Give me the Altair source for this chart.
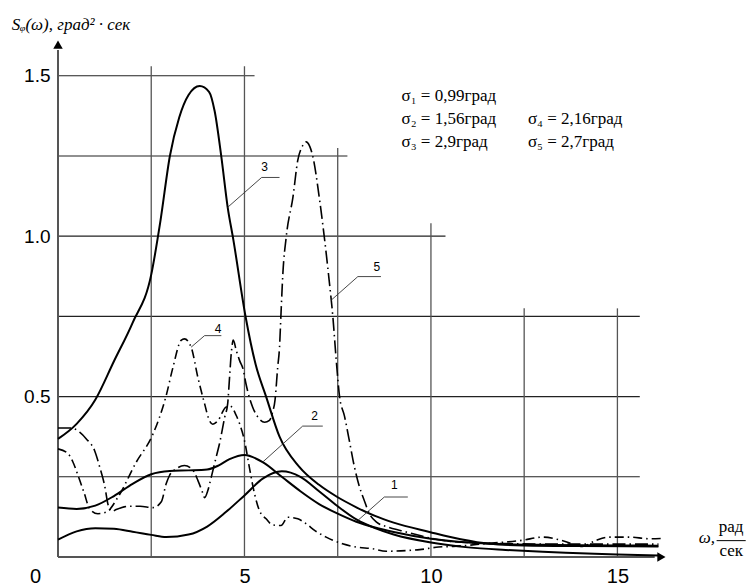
import altair as alt
import pandas as pd

# ---------------- data ----------------
c1_x = [0, 0.5, 1.0, 1.5, 2.0, 2.5, 2.9, 3.5, 4.0, 4.5, 5.0, 5.5, 6.0, 6.5, 7.0, 7.5, 8.0, 8.5, 9.0, 10, 11, 12, 13, 14, 15, 16.1]
c1_y = [0.054, 0.08, 0.09, 0.088, 0.079, 0.069, 0.062, 0.07, 0.095, 0.14, 0.192, 0.245, 0.267, 0.25, 0.205, 0.158, 0.117, 0.09, 0.07, 0.045, 0.03, 0.022, 0.016, 0.012, 0.008, 0.005]

c2_x = [0, 0.5, 1.0, 1.5, 2.0, 2.5, 3.0, 3.5, 4.0, 4.3, 4.6, 5.0, 5.5, 6.0, 6.5, 7.0, 7.5, 8.0, 8.5, 9, 10, 11, 12, 13, 14, 15, 16.1]
c2_y = [0.154, 0.15, 0.16, 0.19, 0.228, 0.258, 0.268, 0.27, 0.273, 0.285, 0.305, 0.318, 0.295, 0.25, 0.205, 0.165, 0.135, 0.11, 0.092, 0.078, 0.057, 0.045, 0.04, 0.038, 0.037, 0.036, 0.035]

c3_x = [0, 0.5, 1.0, 1.5, 2.0, 2.5, 2.75, 3.0, 3.25, 3.5, 3.8, 4.05, 4.2, 4.38, 4.55, 4.7, 5.03, 5.3, 5.58, 5.94, 6.47, 7.0, 7.49, 8.0, 8.5, 9.0, 9.96, 10.8, 11.56, 12.5, 14, 16.1]
c3_y = [0.368, 0.415, 0.49, 0.61, 0.73, 0.88, 1.05, 1.25, 1.37, 1.44, 1.468, 1.45, 1.39, 1.247, 1.09, 0.99, 0.749, 0.6, 0.5, 0.375, 0.281, 0.225, 0.187, 0.155, 0.128, 0.107, 0.078, 0.055, 0.041, 0.036, 0.034, 0.033]

c4_x = [0, 0.27, 0.4, 0.55, 0.7, 0.85, 1.07, 1.3, 1.61, 2.1, 2.55, 2.9, 3.08, 3.3, 3.39, 3.57, 3.75, 3.93, 4.06, 4.15, 4.29, 4.5, 4.62, 4.78, 4.87, 5.0, 5.13, 5.27, 5.4, 5.58, 5.75, 5.98, 6.16, 6.43, 6.65, 6.88, 7.19, 7.37, 7.63, 7.99, 8.43, 8.8, 9.33, 9.7, 10.2, 10.6, 11.5, 12.45, 12.99, 13.5, 14.06, 14.43, 14.78, 15.3, 15.86, 16.2]
c4_y = [0.337, 0.322, 0.296, 0.25, 0.2, 0.15, 0.135, 0.14, 0.187, 0.296, 0.384, 0.503, 0.59, 0.675, 0.68, 0.654, 0.56, 0.478, 0.425, 0.414, 0.425, 0.467, 0.47, 0.441, 0.415, 0.363, 0.28, 0.197, 0.145, 0.119, 0.1, 0.098, 0.124, 0.119, 0.104, 0.083, 0.062, 0.052, 0.041, 0.031, 0.026, 0.018, 0.02, 0.023, 0.031, 0.033, 0.042, 0.052, 0.062, 0.052, 0.033, 0.052, 0.062, 0.062, 0.057, 0.058]

c5_x = [0, 0.36, 0.58, 0.76, 0.98, 1.12, 1.25, 1.35, 1.45, 1.56, 1.88, 2.2, 2.55, 2.77, 2.9, 2.99, 3.17, 3.39, 3.62, 3.75, 3.88, 3.93, 4.02, 4.11, 4.24, 4.33, 4.47, 4.55, 4.6, 4.65, 4.7, 4.78, 4.87, 4.96, 5.04, 5.13, 5.22, 5.36, 5.54, 5.67, 5.75, 5.82, 5.89, 5.94, 5.98, 6.03, 6.12, 6.3, 6.43, 6.55, 6.65, 6.75, 6.83, 7.01, 7.14, 7.27, 7.37, 7.46, 7.55, 7.68, 7.8, 7.95, 8.08, 8.2, 8.35, 8.55, 8.8, 9.2, 9.6, 10.1, 10.6, 11.2, 12, 13, 14, 15, 16.1]
c5_y = [0.402, 0.402, 0.389, 0.368, 0.332, 0.28, 0.223, 0.16, 0.142, 0.148, 0.158, 0.158, 0.154, 0.172, 0.228, 0.254, 0.275, 0.285, 0.27, 0.239, 0.2, 0.185, 0.208, 0.249, 0.311, 0.353, 0.436, 0.478, 0.56, 0.64, 0.676, 0.644, 0.612, 0.587, 0.54, 0.498, 0.467, 0.436, 0.42, 0.426, 0.45, 0.49, 0.59, 0.654, 0.76, 0.884, 0.998, 1.122, 1.237, 1.28, 1.294, 1.28, 1.25, 1.117, 0.998, 0.863, 0.749, 0.614, 0.5, 0.44, 0.37, 0.28, 0.22, 0.18, 0.135, 0.108, 0.095, 0.082, 0.07, 0.056, 0.048, 0.044, 0.042, 0.04, 0.04, 0.04, 0.04]

# partial grid lines
h_grid_y = [0.25, 0.5, 0.75, 1.0, 1.25, 1.5]
h_grid_xend = [15.6, 15.6, 15.6, 10.39, 7.76, 5.27]
v_grid_x = [2.5, 5, 7.5, 10, 12.5, 15]
v_grid_ytop = [1.53, 1.53, 1.275, 1.04, 0.775, 0.775]

# curve labels with leader lines
lab_text = ["1", "2", "3", "4", "5"]
lab_x = [9.02, 6.88, 5.54, 4.29, 8.55]
lab_y = [0.223, 0.441, 1.217, 0.711, 0.903]
lead_x = [[8.04, 8.75, 9.38], [5.49, 6.56, 7.1], [4.55, 5.46, 5.94], [3.57, 3.93, 4.38], [7.32, 8.04, 8.66]]
lead_y = [[0.114, 0.187, 0.187], [0.296, 0.408, 0.408], [1.09, 1.183, 1.183], [0.654, 0.69, 0.69], [0.8, 0.874, 0.874]]

sigma_text = ["σ₁ = 0,99град", "σ₂ = 1,56град", "σ₃ = 2,9град", "σ₄ = 2,16град", "σ₅ = 2,7град"]
sigma_x = [9.21, 9.21, 9.21, 12.6, 12.6]
sigma_y = [1.438, 1.366, 1.293, 1.366, 1.293]

x_ticks = [0, 5, 10, 15]
y_ticks = [0.5, 1.0, 1.5]

# ---------------- chart ----------------
W, H = 634, 539
xs = alt.Scale(domain=[0, 17], nice=False, zero=False)
ys = alt.Scale(domain=[0, 1.68], nice=False, zero=False)

x_axis = alt.Axis(values=x_ticks, title=None, domain=False, ticks=False, grid=False,
                  labelFontSize=20, labelFont="Liberation Sans", labelColor="black",
                  labelPadding=9, labelFlush=False,
                  labelOffset={"condition": {"test": "datum.value == 0", "value": -23}, "value": 0})
y_axis = alt.Axis(values=y_ticks, title=None, domain=False, ticks=False, grid=False, format=".1f",
                  labelFontSize=19, labelFont="Liberation Sans", labelColor="black", labelPadding=8)


def X(f="x"):
    return alt.X(f + ":Q", scale=xs, axis=x_axis)


def Y(f="y"):
    return alt.Y(f + ":Q", scale=ys, axis=y_axis)


layers = []

hg = pd.DataFrame({"y": h_grid_y, "x0": [0] * len(h_grid_y), "x1": h_grid_xend})
layers.append(alt.Chart(hg).mark_rule(color="#222", strokeWidth=1.1).encode(
    x=X("x0"), x2="x1:Q", y=Y("y")))

vg = pd.DataFrame({"x": v_grid_x, "y0": [0] * len(v_grid_x), "y1": v_grid_ytop})
layers.append(alt.Chart(vg).mark_rule(color="#555", strokeWidth=1.3).encode(
    x=X("x"), y=Y("y0"), y2="y1:Q"))

# axis lines and arrows
layers.append(alt.Chart(pd.DataFrame({"x0": [0], "x1": [16.0], "y": [0]})).mark_rule(
    color="#555", strokeWidth=2).encode(x=X("x0"), x2="x1:Q", y=Y("y")))
layers.append(alt.Chart(pd.DataFrame({"x": [0], "y0": [0], "y1": [1.58]})).mark_rule(
    color="#555", strokeWidth=2).encode(x=X("x"), y=Y("y0"), y2="y1:Q"))
layers.append(alt.Chart(pd.DataFrame({"x": [0], "y": [1.597]})).mark_point(
    shape="triangle-up", size=90, filled=True, color="black", opacity=1).encode(x=X("x"), y=Y("y")))
layers.append(alt.Chart(pd.DataFrame({"x": [16.18], "y": [0]})).mark_point(
    shape="triangle-right", size=90, filled=True, color="black", opacity=1).encode(x=X("x"), y=Y("y")))

curves = [(c1_x, c1_y, None), (c2_x, c2_y, None), (c3_x, c3_y, None),
          (c4_x, c4_y, [9, 4, 1.5, 4]), (c5_x, c5_y, [13, 4, 1.5, 4])]
for cx, cy, dash in curves:
    df = pd.DataFrame({"x": cx, "y": cy, "i": range(len(cx))})
    kw = dict(interpolate="monotone", color="black")
    if dash is None:
        kw["strokeWidth"] = 2
    else:
        kw["strokeWidth"] = 1.6
        kw["strokeDash"] = dash
    layers.append(alt.Chart(df).mark_line(**kw).encode(x=X(), y=Y(), order="i:Q"))

# leader lines
rows = []
for k, (lx, ly) in enumerate(zip(lead_x, lead_y)):
    for j, (a, b) in enumerate(zip(lx, ly)):
        rows.append({"x": a, "y": b, "g": k, "i": j})
layers.append(alt.Chart(pd.DataFrame(rows)).mark_line(color="#333", strokeWidth=0.9).encode(
    x=X(), y=Y(), detail="g:N", order="i:Q"))

layers.append(alt.Chart(pd.DataFrame({"x": lab_x, "y": lab_y, "t": lab_text})).mark_text(
    font="Liberation Sans", fontSize=12, color="black", align="center", baseline="middle").encode(
    x=X(), y=Y(), text="t:N"))

layers.append(alt.Chart(pd.DataFrame({"x": sigma_x, "y": sigma_y, "t": sigma_text})).mark_text(
    font="Liberation Serif", fontSize=17, color="black", align="left", baseline="middle").encode(
    x=X(), y=Y(), text="t:N"))

# y-axis title
layers.append(alt.Chart(pd.DataFrame({"x": [-1.24], "y": [1.659], "t": ["Sᵩ(ω), град² · сек"]})).mark_text(
    font="Liberation Serif", fontStyle="italic", fontSize=17, color="black", align="left", baseline="middle").encode(
    x=X(), y=Y(), text="t:N"))

# x-axis title  ω, рад/сек
layers.append(alt.Chart(pd.DataFrame({"x": [17.4], "y": [0.058], "t": ["ω,"]})).mark_text(
    font="Liberation Serif", fontStyle="italic", fontSize=17, color="black", align="center", baseline="middle").encode(
    x=X(), y=Y(), text="t:N"))
layers.append(alt.Chart(pd.DataFrame({"x": [18.05, 18.05], "y": [0.093, 0.02], "t": ["рад", "сек"]})).mark_text(
    font="Liberation Serif", fontSize=17, color="black", align="center", baseline="middle").encode(
    x=X(), y=Y(), text="t:N"))
layers.append(alt.Chart(pd.DataFrame({"x0": [17.66], "x1": [18.44], "y": [0.051]})).mark_rule(
    color="black", strokeWidth=1).encode(x=X("x0"), x2="x1:Q", y=Y("y")))

chart = alt.layer(*layers).properties(
    width=W, height=H,
    autosize=alt.AutoSizeParams(type="none"),
    padding={"left": 50, "top": 10, "right": 55, "bottom": 28},
    background="white",
).configure_view(stroke=None)

chart.save("out.html", embed_options={"renderer": "svg", "actions": False})
